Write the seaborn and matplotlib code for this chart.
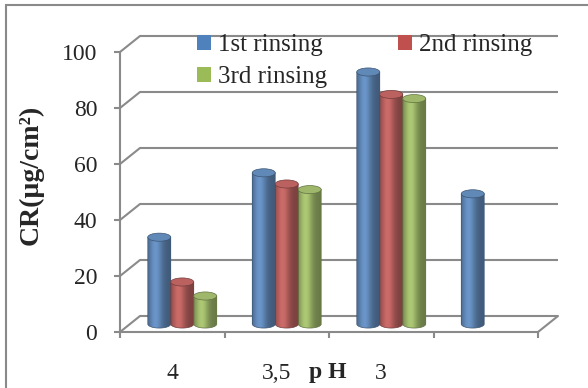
import numpy as np
import pandas as pd
import matplotlib
matplotlib.use("Agg")
import matplotlib.pyplot as plt
import seaborn as sns
from matplotlib.patches import Patch, PathPatch, Ellipse, Rectangle
from matplotlib.path import Path
from matplotlib.lines import Line2D
from matplotlib.colors import to_rgb

# ---- data -------------------------------------------------------------
ph_labels = ["4", "3,5", "3", ""]
rinse_1 = [31, 54, 90, 46.5]
rinse_2 = [15, 50, 82, np.nan]
rinse_3 = [10, 48, 80.5, np.nan]
series_names = ["1st rinsing", "2nd rinsing", "3rd rinsing"]
series_colors = ["#4F81BD", "#C0504D", "#9BBB59"]
y_ticks = [0, 20, 40, 60, 80, 100]

df = pd.DataFrame({
    "pH": ph_labels * 3,
    "CR": rinse_1 + rinse_2 + rinse_3,
    "series": [n for n in series_names for _ in ph_labels],
})

# ---- style ------------------------------------------------------------
sns.set_style("white")
plt.rcParams["font.family"] = ["Liberation Serif", "DejaVu Serif"]
GRAY = "#8a8a8a"

W, H = 588, 388
fig = plt.figure(figsize=(W / 100, H / 100), dpi=100)
fig.patch.set_facecolor("white")

# pseudo-3D planes (pixel geometry): back wall, bar plane, front axes
PL, P0, PW, PH = 130, 64, 418, 280      # bar plane: left, zero level, width, height for 0..100
DX, DY = 10, 8                          # depth offset between planes
UNIT = PH / 100.0
YMIN = -5

ax_back = fig.add_axes([(PL + DX) / W, (P0 + DY) / H, PW / W, PH / H])
ax = fig.add_axes([PL / W, (P0 + YMIN * UNIT) / H, PW / W, (100 - YMIN) * UNIT / H])
ax_front = fig.add_axes([(PL - DX) / W, (P0 - DY) / H, PW / W, PH / H])

for a in (ax_back, ax, ax_front):
    a.set_facecolor("none")

# back wall gridlines
ax_back.set_xlim(-0.5, 3.5)
ax_back.set_ylim(0, 100)
ax_back.hlines(y_ticks, 0, 1, transform=ax_back.get_yaxis_transform(),
               color=GRAY, lw=1.5, clip_on=False)
ax_back.axis("off")

# bars
sns.barplot(data=df, x="pH", y="CR", hue="series", order=ph_labels,
            hue_order=series_names, palette=series_colors, width=0.66,
            errorbar=None, legend=False, ax=ax)

cap = 2.9  # ellipse height of cylinder ends, in data units


def shade(rgb, k):
    return np.clip(np.array(rgb) * k, 0, 1)


t = np.linspace(0, 1, 64)
k_prof = 0.70 + 0.45 * np.exp(-((t - 0.33) / 0.30) ** 2)

for patch in list(ax.patches):
    h = patch.get_height()
    if not np.isfinite(h) or h <= 0:
        continue
    x0, w = patch.get_x(), patch.get_width()
    base = to_rgb(patch.get_facecolor())
    dark = shade(base, 0.65)
    patch.set_linewidth(0)
    cx = x0 + w / 2
    th = np.linspace(np.pi, 2 * np.pi, 40)
    verts = list(zip(cx + w / 2 * np.cos(th), cap / 2 * np.sin(th)))
    verts += [(x0 + w, h), (x0, h), verts[0]]
    codes = [Path.MOVETO] + [Path.LINETO] * (len(verts) - 2) + [Path.CLOSEPOLY]
    body = PathPatch(Path(verts, codes), facecolor="none", edgecolor=dark,
                     lw=0.5, zorder=4, transform=ax.transData)
    ax.add_patch(body)
    grad = np.array([shade(base, k) for k in k_prof])[None, :, :]
    im = ax.imshow(grad, extent=(x0, x0 + w, -cap / 2, h), aspect="auto",
                   interpolation="bilinear", origin="lower", zorder=3)
    im.set_clip_path(body)
    ax.add_patch(Ellipse((cx, h), w, cap, facecolor=shade(base, 1.05),
                         edgecolor=dark, lw=0.5, zorder=5))

ax.set_xlim(-0.5, 3.5)
ax.set_ylim(YMIN, 100)
ax.axis("off")

# front axes: ticks, labels, floor edge
ax_front.set_xlim(-0.5, 3.5)
ax_front.set_ylim(0, 100)
for s in ("top", "right"):
    ax_front.spines[s].set_visible(False)
for s in ("left", "bottom"):
    ax_front.spines[s].set_color(GRAY)
    ax_front.spines[s].set_linewidth(1.5)
ax_front.set_yticks(y_ticks)
ax_front.tick_params(axis="y", length=4.3, width=1.5, color=GRAY, pad=12,
                     labelsize=17, left=True, direction="out")
ax_front.set_xticks(range(len(ph_labels)))
ax_front.set_xticklabels(ph_labels)
ax_front.tick_params(axis="x", which="major", length=0, pad=22, labelsize=17)
ax_front.set_xticks(np.arange(-0.5, len(ph_labels), 1), minor=True)
ax_front.tick_params(axis="x", which="minor", length=4, width=1.5,
                     color=GRAY, direction="out", bottom=True)

ax_front.set_xlabel("p H", fontsize=17, fontweight="bold")
ax_front.xaxis.set_label_coords(0.498, -0.146)
ax_front.xaxis.label.set_va("center")
ax_front.set_ylabel("CR(µg/cm²)", fontsize=20, fontweight="bold")
ax_front.yaxis.set_label_coords(-0.213, 0.56)
ax_front.yaxis.label.set_va("center")

# depth edges joining front axis to back wall
to_fig = fig.transFigure.inverted()
edges = [(-0.5, v) for v in y_ticks] + [(3.5, 0)]
for xe, v in edges:
    p1 = to_fig.transform(ax_front.transData.transform((xe, v)))
    p2 = to_fig.transform(ax_back.transData.transform((xe, v)))
    fig.add_artist(Line2D([p1[0], p2[0]], [p1[1], p2[1]], color=GRAY, lw=1.5,
                          transform=fig.transFigure))

# legend laid out row by row
order = [0, 2, 1]
handles = [Patch(facecolor=series_colors[i], edgecolor="none") for i in order]
labels = [series_names[i] for i in order]
fig.legend(handles, labels, loc="upper left", bbox_to_anchor=(197 / W, 1 - 34 / H),
           ncol=2, frameon=False, fontsize=18, handlelength=0.56,
           handleheight=0.56, handletextpad=0.28, columnspacing=2.85,
           labelspacing=0.42, borderpad=0, borderaxespad=0)

# chart frame
fig.add_artist(Rectangle((6 / W, -0.05), 1.0, 1.05 - 5 / H, transform=fig.transFigure,
                         facecolor="none", edgecolor=GRAY, lw=1.5))

fig.savefig("out.png", dpi=100)
